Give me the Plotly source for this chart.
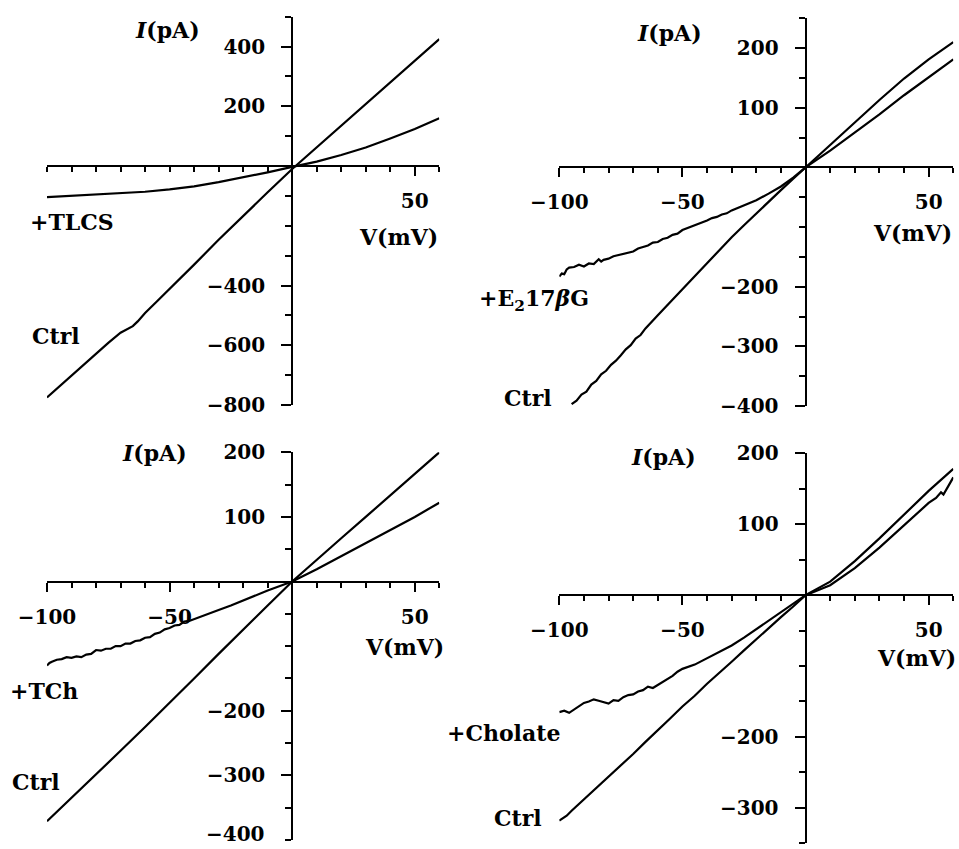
import plotly.graph_objects as go

W, H = 959, 849
FONT = "DejaVu Serif"
TICK_FS = 20
ANN_FS = 22

# ---------------- data ----------------
# Panel 1: TLCS
v1_ctrl = [-100, -95, -90, -85, -80, -75, -70, -67, -65, -63, -60, -55, -50, -40, -30, -20, -10, 0, 10, 20, 30, 40, 50, 60]
i1_ctrl = [-775, -738, -701, -664, -626, -592, -558, -545, -536, -520, -492, -452, -412, -330, -247, -166, -88, -10, 62, 134, 207, 280, 352, 425]
v1_tlcs = [-100, -90, -80, -70, -60, -50, -40, -30, -20, -10, 0, 10, 20, 30, 40, 50, 60]
i1_tlcs = [-104, -100, -96, -92, -86, -78, -68, -54, -38, -21, -3, 15, 37, 62, 92, 124, 160]

# Panel 2: E2 17beta G
v2_ctrl = [-95, -93, -91, -89, -87, -85, -83, -81, -79, -77, -75, -73, -71, -69, -67, -65, -60, -55, -50, -45,
           -40, -35, -30, -25, -20, -15, -10, -5, 0, 10, 20, 30, 40, 50, 60]
i2_ctrl = [-397, -391, -381, -376, -364, -358, -347, -341, -331, -324, -315, -305, -298, -287, -281, -270, -248,
           -226, -204, -182, -160, -139, -117, -97, -77, -57, -38, -19, 0, 38, 76, 113, 149, 181, 210]
v2_e2 = [-100, -99, -98, -97, -96, -94, -92, -90, -88, -86, -84, -83, -82, -80, -78, -76, -74, -72, -70, -68,
         -66, -64, -62, -60, -58, -56, -54, -52, -50, -48, -46, -44, -42, -40, -38, -36, -34, -32, -30, -25,
         -20, -15, -10, -5, 0, 10, 20, 30, 40, 50, 60]
i2_e2 = [-183, -178, -179, -171, -168, -167, -163, -166, -161, -162, -154, -158, -155, -153, -149, -147, -144,
         -142, -141, -136, -134, -131, -126, -125, -120, -118, -113, -111, -105, -102, -98, -96, -92, -89, -85,
         -83, -79, -77, -72, -64, -55, -44, -32, -17, 0, 28, 58, 89, 121, 151, 181]

# Panel 3: TCh
v3_ctrl = [-100, -90, -80, -70, -60, -50, -40, -30, -20, -10, 0, 10, 20, 30, 40, 50, 60]
i3_ctrl = [-371, -335, -299, -262, -225, -188, -150, -112, -74, -37, 0, 34, 67, 100, 133, 166, 200]
v3_tch = [-100, -99, -98, -96, -94, -92, -90, -88, -86, -84, -82, -80, -78, -76, -74, -72, -70, -68, -66, -64,
          -62, -60, -58, -56, -54, -52, -50, -48, -46, -44, -42, -40, -35, -30, -25, -20, -15, -10, -5, 0,
          10, 20, 30, 40, 50, 60]
i3_tch = [-130, -126, -124, -121, -120, -117, -118, -116, -117, -113, -112, -106, -107, -104, -104, -100, -100,
          -96, -96, -92, -91, -87, -86, -81, -79, -74, -72, -68, -67, -62, -61, -58, -51, -44, -37, -29, -21,
          -14, -7, 0, 19, 39, 59, 80, 100, 122]

# Panel 4: Cholate
v4_ctrl = [-100, -97, -95, -90, -85, -80, -75, -70, -65, -60, -55, -50, -45, -40, -35, -30, -25, -20, -15, -10,
           -5, 0, 10, 20, 30, 40, 50, 60]
i4_ctrl = [-318, -311, -304, -288, -272, -257, -240, -224, -207, -191, -174, -157, -142, -125, -110, -94, -78,
           -62, -47, -31, -16, 0, 19, 48, 80, 113, 147, 178]
v4_chol = [-100, -98, -96, -94, -92, -90, -88, -86, -84, -82, -80, -78, -76, -74, -72, -70, -68, -66, -64, -62,
           -60, -58, -56, -54, -52, -50, -45, -40, -35, -30, -25, -20, -15, -10, -5, 0, 10, 20, 30, 40, 50,
           53, 55, 56, 58, 60]
i4_chol = [-165, -163, -166, -161, -157, -152, -150, -147, -149, -151, -153, -148, -149, -144, -141, -140, -136,
           -134, -129, -131, -127, -123, -119, -114, -108, -104, -98, -89, -79, -71, -60, -48, -35, -24, -12,
           0, 14, 38, 67, 98, 130, 137, 145, 142, 153, 166]

# tick labels
x_tickvals_p1 = [50]
x_ticktext_p1 = ["50"]
x_tickvals = [-100, -50, 50]
x_ticktext = ["\u2212100", "\u221250", "50"]
y_tickvals_p1 = [400, 200, -400, -600, -800]
y_tickvals_p2 = [200, 100, -200, -300, -400]
y_tickvals_p3 = [200, 100, -200, -300]   # the -400 label sits at the page edge, drawn separately
y_tickvals_p4 = [200, 100, -200, -300]
p3_bottom_label = "\u2212400"


def lab(v):
    return str(v) if v >= 0 else "\u2212" + str(-v)


# ---------------- layout geometry (pixels) ----------------
panels = [
    dict(xpx=(47, 439.3), ypx=(16.7, 405), xr=(-100, 60), yr=(-800, 500), ydt=100,
         ytv=y_tickvals_p1, xtv=x_tickvals_p1, xtt=x_ticktext_p1),
    dict(xpx=(559.3, 953.3), ypx=(18.3, 406), xr=(-100, 60), yr=(-400, 250), ydt=50,
         ytv=y_tickvals_p2, xtv=x_tickvals, xtt=x_ticktext),
    dict(xpx=(47, 439.3), ypx=(452.3, 840), xr=(-100, 60), yr=(-400, 200), ydt=50,
         ytv=y_tickvals_p3, xtv=x_tickvals, xtt=x_ticktext),
    dict(xpx=(559.3, 953.3), ypx=(453.3, 843.3), xr=(-100, 60), yr=(-350, 200), ydt=50,
         ytv=y_tickvals_p4, xtv=x_tickvals, xtt=x_ticktext),
]

traces = [
    [(v1_ctrl, i1_ctrl), (v1_tlcs, i1_tlcs)],
    [(v2_ctrl, i2_ctrl), (v2_e2, i2_e2)],
    [(v3_ctrl, i3_ctrl), (v3_tch, i3_tch)],
    [(v4_ctrl, i4_ctrl), (v4_chol, i4_chol)],
]

fig = go.Figure()
tickfont = dict(family=FONT, size=TICK_FS, color="black", weight=700)

for k, p in enumerate(panels):
    n = "" if k == 0 else str(k + 1)
    xd = (p["xpx"][0] / W, p["xpx"][1] / W)
    yd = (1 - p["ypx"][1] / H, 1 - p["ypx"][0] / H)
    x0, x1 = p["xr"]
    y0, y1 = p["yr"]
    xpos = xd[0] + (0 - x0) / (x1 - x0) * (xd[1] - xd[0])
    ypos = yd[0] + (0 - y0) / (y1 - y0) * (yd[1] - yd[0])
    for (vv, ii) in traces[k]:
        fig.add_trace(go.Scatter(x=vv, y=ii, mode="lines", line=dict(color="black", width=2.2),
                                 xaxis="x" + n, yaxis="y" + n, showlegend=False, hoverinfo="skip",
                                 cliponaxis=False))
    fig.layout["xaxis" + n] = dict(
        domain=list(xd), range=[x0, x1], anchor="free", position=ypos, automargin=False,
        showline=True, linecolor="black", linewidth=2, showgrid=False, zeroline=False,
        tickmode="array", tickvals=p["xtv"], ticktext=p["xtt"],
        ticks="outside", ticklen=9, tickwidth=2, tickcolor="black",
        minor=dict(tickmode="linear", tick0=0, dtick=10, ticks="outside", ticklen=5,
                   tickwidth=1.5, tickcolor="black", showgrid=False),
        tickfont=tickfont, ticklabelstandoff=8, ticklabeloverflow="allow", fixedrange=True,
    )
    fig.layout["yaxis" + n] = dict(
        domain=list(yd), range=[y0, y1], anchor="free", position=xpos, automargin=False,
        showline=True, linecolor="black", linewidth=2, showgrid=False, zeroline=False,
        tickmode="array", tickvals=p["ytv"], ticktext=[lab(v) for v in p["ytv"]],
        ticks="outside", ticklen=10, tickwidth=2, tickcolor="black",
        minor=dict(tickmode="linear", tick0=0, dtick=p["ydt"], ticks="outside", ticklen=6,
                   tickwidth=1.5, tickcolor="black", showgrid=False),
        tickfont=tickfont, ticklabelstandoff=12, ticklabeloverflow="allow", fixedrange=True,
    )

# ---------------- text labels (pixel positions) ----------------
texts = [
    ("<i>I</i>(pA)", 167, 30, "center"),
    ("V(mV)", 440, 237, "right"),
    ("+TLCS", 28, 222, "left"),
    ("Ctrl", 30, 336, "left"),
    ("<i>I</i>(pA)", 669, 33, "center"),
    ("V(mV)", 954, 233, "right"),
    ("+E<sub>2</sub>17<i>\u03b2</i>G", 477, 300, "left"),
    ("Ctrl", 502, 398, "left"),
    ("<i>I</i>(pA)", 154, 453, "center"),
    ("V(mV)", 446, 647, "right"),
    ("+TCh", 8, 691, "left"),
    ("Ctrl", 10, 782, "left"),
    ("<i>I</i>(pA)", 663, 457, "center"),
    ("V(mV)", 958, 658, "right"),
    ("+Cholate", 445, 733, "left"),
    ("Ctrl", 492, 818, "left"),
]
for t, xp, yp, anc in texts:
    fig.add_annotation(text=t, x=xp / W, y=1 - yp / H, xref="paper", yref="paper",
                       xanchor=anc, yanchor="middle", showarrow=False,
                       font=dict(family=FONT, size=ANN_FS, color="black", weight=700))

# bottom tick label of panel 3 (kept inside the page)
fig.add_annotation(text=p3_bottom_label, x=267 / W, y=1 - 848 / H, xref="paper", yref="paper",
                   xanchor="right", yanchor="bottom", showarrow=False,
                   font=dict(family=FONT, size=TICK_FS, color="black", weight=700))

fig.update_layout(width=W, height=H, margin=dict(l=0, r=0, t=0, b=0, autoexpand=False),
                  paper_bgcolor="white", plot_bgcolor="white")

fig.write_html("out.html", config={"displayModeBar": False})
